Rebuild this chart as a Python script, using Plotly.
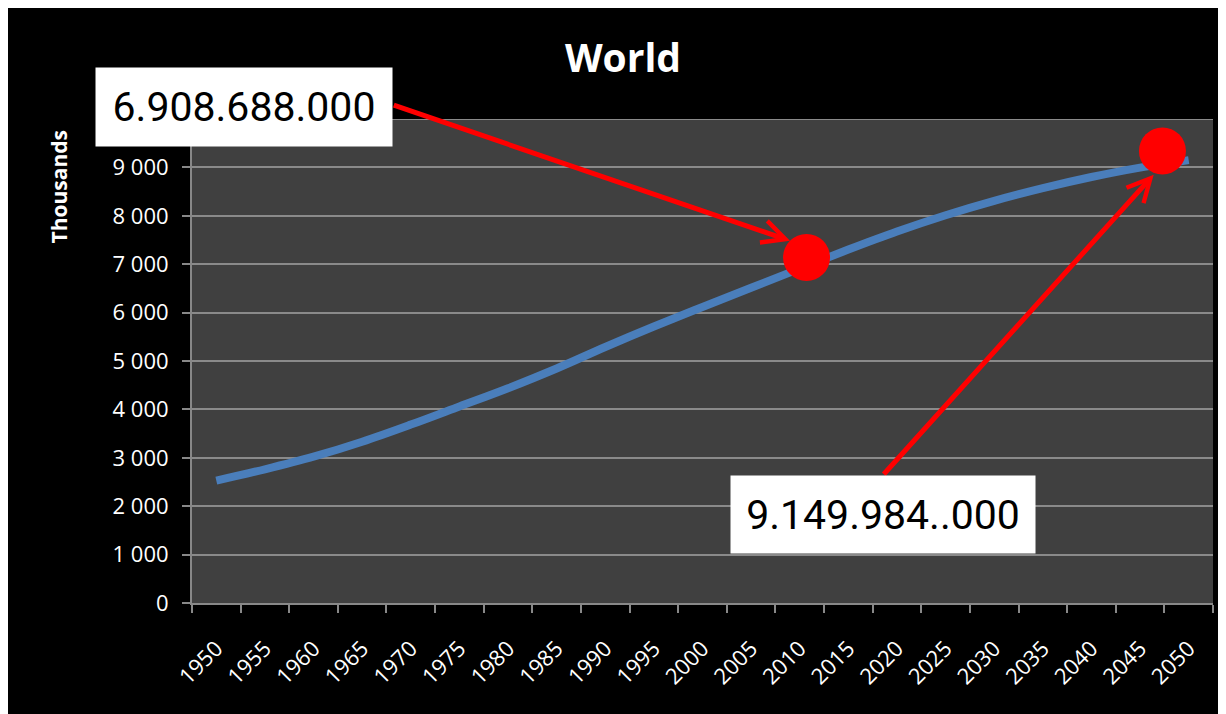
import plotly.graph_objects as go

# World population, thousands
years = [1950, 1955, 1960, 1965, 1970, 1975, 1980, 1985, 1990, 1995, 2000,
         2005, 2010, 2015, 2020, 2025, 2030, 2035, 2040, 2045, 2050]
population = [2529, 2763, 3023, 3332, 3686, 4061, 4438, 4846, 5290, 5713, 6115,
              6512, 6909, 7302, 7675, 8012, 8309, 8571, 8801, 8996, 9150]

y_ticks = [0, 1000, 2000, 3000, 4000, 5000, 6000, 7000, 8000, 9000]
y_tick_labels = ["0", "1 000", "2 000", "3 000", "4 000", "5 000",
                 "6 000", "7 000", "8 000", "9 000"]

# red dots placed over the curve
highlight_years = [2010.7, 2047.3]
highlight_values = [7140, 9340]

# callouts: text, arrow tail (year, value), arrow tip (year, value)
callout_texts = ["6.908.688.000", "9.149.984..000"]
arrow_tail_years = [1968.1, 2018.5]
arrow_tail_values = [10295, 2630]
arrow_tip_years = [2009.0, 2046.4]
arrow_tip_values = [7486, 8849]

fig = go.Figure()

fig.add_trace(go.Scatter(
    x=years, y=population, mode="lines",
    line=dict(color="#4a7ebb", width=8, shape="spline"),
    showlegend=False, hoverinfo="x+y",
))

fig.add_trace(go.Scatter(
    x=highlight_years, y=highlight_values, mode="markers",
    marker=dict(color="#ff0000", size=47, line=dict(width=0)),
    showlegend=False, cliponaxis=False,
))

annotations = []
# arrows first so the boxes sit on top
for i in range(len(callout_texts)):
    annotations.append(dict(
        x=arrow_tip_years[i], y=arrow_tip_values[i], xref="x", yref="y",
        ax=arrow_tail_years[i], ay=arrow_tail_values[i], axref="x", ayref="y",
        text="", showarrow=True, arrowhead=5, arrowsize=0.9,
        arrowwidth=5, arrowcolor="#ff0000",
    ))

box_pos = [(0.051, 1.0254, 288, 70), (0.677, 0.1837, 296, 69)]
for txt, (bx, by, bw, bh) in zip(callout_texts, box_pos):
    annotations.append(dict(
        x=bx, y=by, xref="paper", yref="paper", xanchor="center", yanchor="middle",
        text=txt, showarrow=False, bgcolor="white", borderpad=4,
        width=bw, height=bh, align="center", valign="middle",
        font=dict(family="Roboto", size=41, color="black"),
    ))

annotations.append(dict(
    x=-0.130, y=0.859, xref="paper", yref="paper", text="<b>Thousands</b>",
    textangle=-90, showarrow=False, xanchor="center", yanchor="middle",
    font=dict(family="Open Sans", size=21, color="white"),
))

fig.update_layout(
    width=1226, height=714,
    paper_bgcolor="black", plot_bgcolor="#404040",
    margin=dict(l=184, r=21, t=111, b=119),
    title=dict(text="<b>World</b>", x=0.5016, y=0.93, xanchor="center", yanchor="middle",
               font=dict(family="Open Sans", size=39, color="white")),
    xaxis=dict(
        range=[1947.5, 2052.5], tickmode="array", tickvals=years,
        ticktext=[str(y) for y in years], tickangle=-45, ticks="",
        showgrid=False, showline=True, linecolor="#888888", linewidth=2,
        tickfont=dict(family="Open Sans", size=22, color="white"),
        ticklabelstandoff=22, zeroline=False,
        minor=dict(tick0=1947.5, dtick=5, ticks="outside", ticklen=8,
                   tickwidth=2, tickcolor="#888888", showgrid=False),
    ),
    yaxis=dict(
        range=[0, 10000], tickmode="array", tickvals=y_ticks, ticktext=y_tick_labels,
        ticks="outside", ticklen=8, tickwidth=2, tickcolor="#888888",
        showgrid=True, gridcolor="#8a8a8a", gridwidth=2,
        showline=True, linecolor="#888888", linewidth=2, zeroline=False,
        tickfont=dict(family="Open Sans", size=22, color="white"),
        ticklabelstandoff=9,
    ),
    annotations=annotations,
)

# top grid line at 10 000 (no label)
fig.add_hline(y=10000, line=dict(color="#8a8a8a", width=2), layer="below")

fig.write_html("out.html")
